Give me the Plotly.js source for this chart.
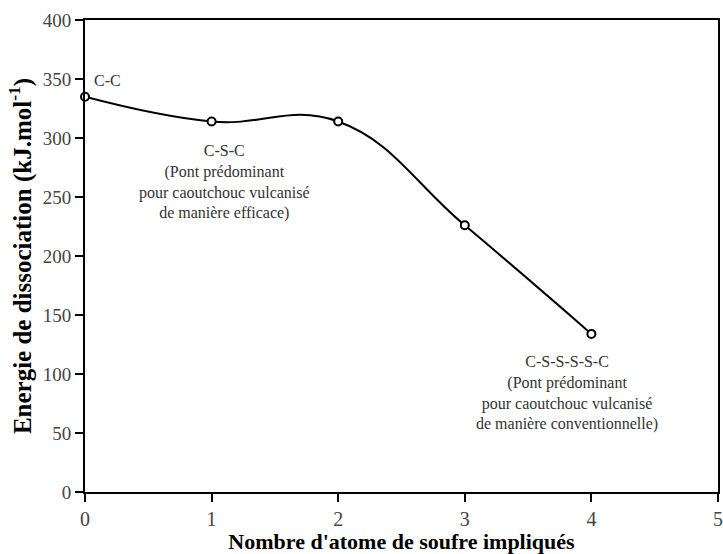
<!DOCTYPE html>
<html>
<head>
<meta charset="utf-8">
<script src="https://cdn.plot.ly/plotly-3.0.1.min.js"></script>
<style>html,body{margin:0;padding:0;background:#fff;}#chart{width:723px;height:554px;}</style>
</head>
<body>
<div id="chart"></div>
<script>
// Data
const sulfurAtoms = [0, 1, 2, 3, 4];
const dissociationEnergy = [335, 314, 314, 226, 134];
const xTickVals = [0, 1, 2, 3, 4, 5];
const yTickVals = [0, 50, 100, 150, 200, 250, 300, 350, 400];

const labelCC = "C-C";
const labelCSC = "C-S-C<br>(Pont prédominant<br>pour caoutchouc vulcanisé<br>de manière efficace)";
const labelCSSSSC = "C-S-S-S-S-C<br>(Pont prédominant<br>pour caoutchouc vulcanisé<br>de manière conventionnelle)";

const serif = "'Liberation Serif', 'Times New Roman', Times, serif";

const trace = {
  x: sulfurAtoms,
  y: dissociationEnergy,
  type: "scatter",
  mode: "lines+markers",
  line: {color: "#000", width: 2, shape: "spline", smoothing: 1.2},
  marker: {symbol: "circle", size: 8, color: "#fff", line: {color: "#000", width: 2}},
  cliponaxis: false,
  hoverinfo: "skip"
};

const layout = {
  width: 723, height: 554,
  margin: {l: 85, r: 5, t: 20, b: 62},
  paper_bgcolor: "#fff", plot_bgcolor: "#fff",
  showlegend: false,
  font: {family: serif, color: "#333"},
  xaxis: {
    range: [0, 5], tickvals: xTickVals, ticktext: xTickVals.map(String),
    showgrid: false, zeroline: false,
    showline: true, linecolor: "#000", linewidth: 2, mirror: true,
    ticks: "outside", ticklen: 8, tickwidth: 2, tickcolor: "#000",
    tickfont: {family: serif, size: 20, color: "#444"},
    title: {text: "<b>Nombre d'atome de soufre impliqués</b>", font: {family: serif, size: 22, color: "#000"}, standoff: 4}
  },
  yaxis: {
    range: [0, 400], tickvals: yTickVals, ticktext: yTickVals.map(String),
    showgrid: false, zeroline: false,
    showline: true, linecolor: "#000", linewidth: 2, mirror: true,
    ticks: "outside", ticklen: 8, tickwidth: 2, tickcolor: "#000",
    tickfont: {family: serif, size: 19, color: "#444"},
    title: {text: "<b>Energie de dissociation (kJ.mol<sup>-1</sup>)</b>", font: {family: serif, size: 25, color: "#000"}, standoff: 4}
  },
  annotations: [
    {x: 0.055, y: 349, xref: "x", yref: "y", text: labelCC, showarrow: false, xanchor: "left", yanchor: "middle",
     font: {family: serif, size: 16, color: "#333"}},
    {x: 1.1, y: 263, xref: "x", yref: "y", text: labelCSC, showarrow: false, xanchor: "center", yanchor: "middle",
     align: "center", font: {family: serif, size: 16, color: "#333"}},
    {x: 3.81, y: 84, xref: "x", yref: "y", text: labelCSSSSC, showarrow: false, xanchor: "center", yanchor: "middle",
     align: "center", font: {family: serif, size: 16, color: "#333"}}
  ]
};

Plotly.newPlot("chart", [trace], layout, {staticPlot: true, displayModeBar: false});
</script>
</body>
</html>
